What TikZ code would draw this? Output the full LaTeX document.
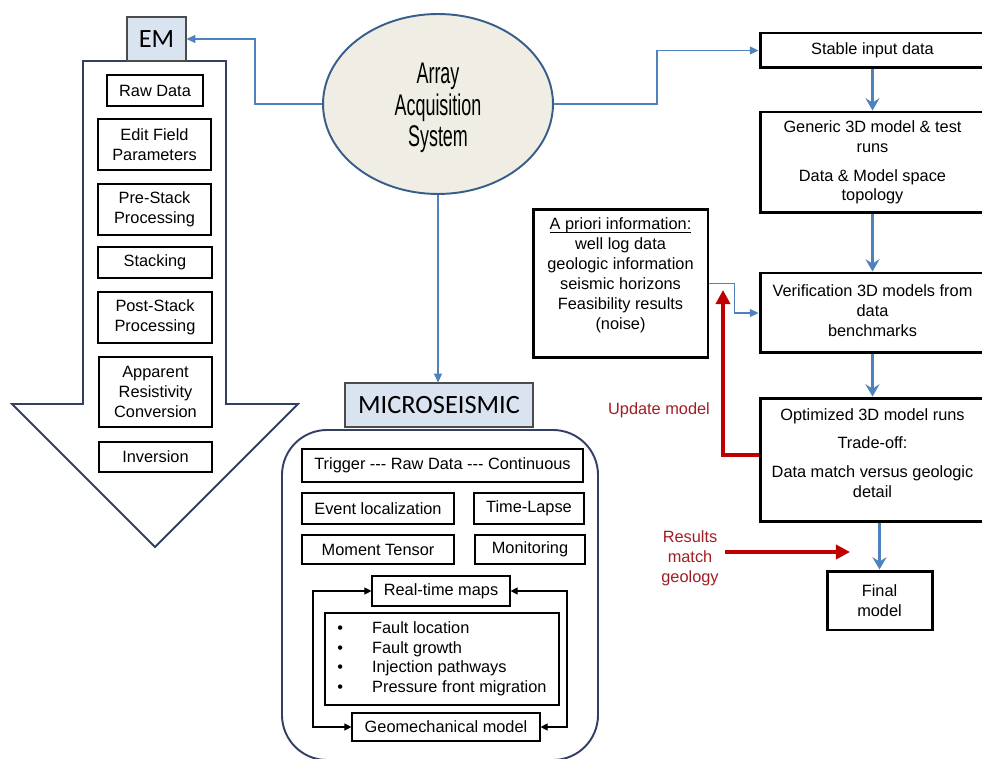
\documentclass[tikz,border=0pt]{standalone}
\usepackage{fontspec}
\setmainfont{Liberation Sans}[Ligatures=TeXOff]
\newfontfamily\tagfont{Carlito}
\usepackage{graphicx}
\definecolor{steelblue}{RGB}{79,129,189}
\definecolor{navyline}{RGB}{50,64,98}
\definecolor{ellipseblue}{RGB}{56,93,138}
\definecolor{tanfill}{RGB}{240,238,228}
\definecolor{labelfill}{RGB}{218,227,240}
\definecolor{alertred}{RGB}{192,0,0}
\definecolor{textred}{RGB}{160,30,35}
\usetikzlibrary{shapes.geometric, arrows.meta, positioning, calc}

\begin{document}
\begin{tikzpicture}[x=0.02cm, y=-0.02cm, font=\fontsize{9.3}{11.3}\selectfont,
    emstep/.style={draw=black, line width=0.7pt, align=center, inner sep=0pt},
    flowbox/.style={draw=black, line width=1.7pt, minimum width=4.5cm, align=center, inner sep=0pt},
    msbox/.style={draw=black, line width=0.7pt, align=center, inner sep=0pt},
    tagbox/.style={draw=black!70, line width=0.6pt, fill=labelfill, inner sep=0pt,
                   font=\tagfont\fontsize{15}{18}\selectfont},
    bluelink/.style={steelblue, line width=0.9pt, -{Triangle[length=5pt,width=4.5pt]}},
    bluestep/.style={steelblue, line width=1.8pt, -{Stealth[length=7pt,width=8pt,inset=2.5pt]}},
    redlink/.style={alertred, line width=2.5pt, -{Triangle[length=8pt,width=8pt]}},
    loopline/.style={black, line width=0.7pt, {Triangle[length=4pt,width=4pt]}-{Triangle[length=4pt,width=4pt]}},
    redtext/.style={textred, align=center}]
\useasboundingbox (0,0) rectangle (982,759);

% EM processing column
\draw[navyline, line width=1.1pt, fill=white] (83,61) -- (226,61) -- (226,404) -- (298,404)
     -- (155,547) -- (12,404) -- (83,404) -- cycle;
\node[tagbox, minimum width=1.18cm, minimum height=0.88cm] (em) at (156.5,39) {EM};
\node[emstep, minimum width=1.92cm, minimum height=0.62cm] (rawem) at (155,90.5) {Raw Data};
\node[emstep, minimum width=2.26cm, minimum height=1.02cm] (editfield) at (154.5,144.5) {Edit Field\\Parameters};
\node[emstep, minimum width=2.26cm, minimum height=1.02cm] (prestack) at (154.5,209.5) {Pre-Stack\\Processing};
\node[emstep, minimum width=2.28cm, minimum height=0.62cm] (stacking) at (155,262.5) {Stacking};
\node[emstep, minimum width=2.28cm, minimum height=1.02cm] (poststack) at (155,317.5) {Post-Stack\\Processing};
\node[emstep, minimum width=2.26cm, minimum height=1.40cm] (apparent) at (155.5,392) {Apparent\\Resistivity\\Conversion};
\node[emstep, minimum width=2.26cm, minimum height=0.60cm] (inversion) at (155.5,457) {Inversion};

% Acquisition system
\node[ellipse, draw=ellipseblue, line width=1.1pt, fill=tanfill, minimum width=4.6cm,
      minimum height=3.6cm, inner sep=0pt] (acq) at (438,104)
      {\fontsize{17}{17.8}\selectfont\scalebox{0.6}[1]{\begin{tabular}{@{}c@{}}\rule{0pt}{18pt}Array\\Acquisition\\System\end{tabular}}};

% Inversion workflow
\node[flowbox, minimum height=0.7cm] (stable) at (872.5,50.5) {Stable input data};
\node[flowbox, minimum height=2.02cm] (generic) at (872.5,162.5)
      {Generic 3D model \& test\\runs\\[5pt]Data \& Model space\\topology};
\node[flowbox, minimum height=1.6cm] (verif) at (872.5,313) {Verification 3D models from\\data\\benchmarks\rule[-0.1cm]{0pt}{0pt}};
\node[flowbox, minimum height=2.48cm] (optim) at (872.5,460)
      {Optimized 3D model runs\\[5pt]Trade-off:\\[5pt]Data match versus geologic\\detail\rule[-0.28cm]{0pt}{0pt}};
\node[flowbox, minimum width=2.1cm, minimum height=1.18cm] (final) at (879.5,600.5) {Final\\model};
\node[flowbox, minimum width=3.5cm, minimum height=2.98cm] (apriori) at (620.5,283.5)
      {\underline{\smash{A priori information:}}\\well log data\\geologic information\\seismic horizons\\Feasibility results\\(noise)\rule[-0.16cm]{0pt}{0pt}};

% Microseismic block
\draw[navyline, line width=1.1pt, rounded corners=0.9cm] (282,430) rectangle (598,760);
\node[tagbox, minimum width=3.76cm, minimum height=0.88cm] (micro) at (439,405) {MICROSEISMIC};
\node[msbox, minimum width=5.62cm, minimum height=0.66cm] (trigger) at (442.5,465.5) {Trigger --- Raw Data --- Continuous};
\node[msbox, minimum width=3.04cm, minimum height=0.62cm] (eventloc) at (378,508.5) {Event localization};
\node[msbox, minimum width=2.2cm, minimum height=0.62cm] (timelapse) at (529,508.5) {Time-Lapse};
\node[msbox, minimum width=3.04cm, minimum height=0.58cm] (moment) at (378,549.5) {Moment Tensor};
\node[msbox, minimum width=2.2cm, minimum height=0.58cm] (monitor) at (530,549.5) {Monitoring};
\node[msbox, minimum width=2.76cm, minimum height=0.6cm] (rtmaps) at (441,591) {Real-time maps};
\node[msbox, minimum width=4.68cm, minimum height=1.84cm] (faults) at (442,659)
      {\begin{tabular}{@{}l@{\hspace{0.58cm}}l@{}}
       \textbullet & Fault location\\
       \textbullet & Fault growth\\
       \textbullet & Injection pathways\\
       \textbullet & Pressure front migration
       \end{tabular}};
\node[msbox, minimum width=3.76cm, minimum height=0.56cm] (geomech) at (446,727) {Geomechanical model};

% feedback loop
\coordinate (loopL) at (313,0);
\coordinate (loopR) at (567,0);
\draw[loopline] (rtmaps.west) -- (rtmaps.west -| loopL) -- (geomech.west -| loopL) -- (geomech.west);
\draw[loopline] (rtmaps.east) -- (rtmaps.east -| loopR) -- (geomech.east -| loopR) -- (geomech.east);

% Connectors
\draw[bluelink] (acq.west) -- ++(-67,0) |- (em.east);
\draw[bluelink] (acq.east) -- ++(103,0) |- (stable.west);
\draw[bluelink] (acq.south) -- (acq.south |- micro.north);
\draw[bluelink] (apriori.east) -- ++(25,0) |- (verif.west);
\draw[bluestep] (stable.south) -- (generic.north);
\draw[bluestep] (generic.south) -- (verif.north);
\draw[bluestep] (verif.south) -- (optim.north);
\draw[bluestep] (final.north |- optim.south) -- (final.north);

% Update and results
\coordinate (updtip) at (723,290);
\draw[redlink] ([yshift=0.1cm]optim.west) -| (updtip);
\node[redtext] (updlbl) at (659,410) {Update model};
\node[redtext] (reslbl) at (690,558) {Results\\match\\geology};
\coordinate (resend) at (850,552);
\draw[redlink] (reslbl.east |- resend) -- (resend);
\end{tikzpicture}
\end{document}
